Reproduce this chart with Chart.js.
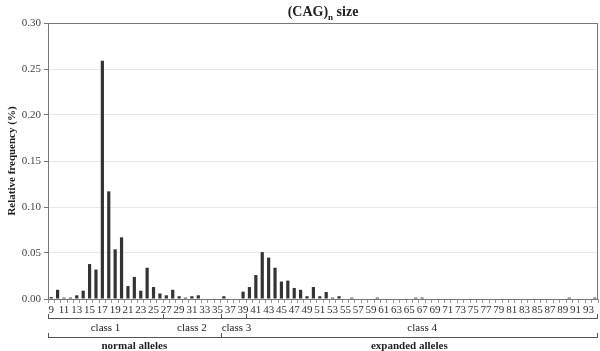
<!DOCTYPE html>
<html>
<head>
<meta charset="utf-8">
<script src="https://cdn.jsdelivr.net/npm/chart.js@4"></script>
<style>
  body { margin: 0; background: #fff; }
  #wrap { width: 600px; height: 351px; position: relative; }
</style>
</head>
<body>
<div id="wrap"><canvas id="chart"></canvas></div>
<script>
// CAG repeat sizes (categories)
const categories = [9, 10, 11, 12, 13, 14, 15, 16, 17, 18, 19, 20, 21, 22, 23, 24, 25, 26, 27, 28,
  29, 30, 31, 32, 33, 34, 35, 36, 37, 38, 39, 40, 41, 42, 43, 44, 45, 46, 47, 48,
  49, 50, 51, 52, 53, 54, 55, 56, 57, 58, 59, 60, 61, 62, 63, 64, 65, 66, 67, 68,
  69, 70, 71, 72, 73, 74, 75, 76, 77, 78, 79, 80, 81, 82, 83, 84, 85, 86, 87, 88,
  89, 90, 91, 92, 93, 94];

// relative frequency
const frequency = [0.002, 0.010, 0.0015, 0.0015, 0.004, 0.009, 0.038, 0.032, 0.259, 0.117,
  0.054, 0.067, 0.014, 0.024, 0.009, 0.034, 0.013, 0.006, 0.004, 0.010,
  0.003, 0.0015, 0.003, 0.004, 0, 0, 0, 0.003, 0, 0,
  0.008, 0.013, 0.026, 0.051, 0.045, 0.034, 0.019, 0.020, 0.012, 0.010,
  0.003, 0.013, 0.003, 0.0076, 0.0015, 0.003, 0, 0.0015, 0, 0,
  0, 0.0015, 0, 0, 0, 0, 0, 0.0015, 0.0015, 0,
  0, 0, 0, 0, 0, 0, 0, 0, 0, 0,
  0, 0, 0, 0, 0, 0, 0, 0, 0, 0,
  0, 0.0015, 0, 0, 0, 0.0015];

const tickLabels = [9, 11, 13, 15, 17, 19, 21, 23, 25, 27, 29, 31, 33, 35, 37, 39, 41, 43, 45, 47,
  49, 51, 53, 55, 57, 59, 61, 63, 65, 67, 69, 71, 73, 75, 77, 79, 81, 83, 85, 87,
  89, 91, 93];

const yTicks = [0, 0.05, 0.10, 0.15, 0.20, 0.25, 0.30];

// groups: [label, first size, last size]
const classGroups = [["class 1", 9, 26], ["class 2", 27, 35], ["class 3", 36, 39], ["class 4", 40, 94]];
const alleleGroups = [["normal alleles", 9, 35], ["expanded alleles", 36, 94]];

const SERIF = '"Liberation Serif", "Times New Roman", serif';

const decorations = {
  id: "decorations",
  afterDraw(chart) {
    const ctx = chart.ctx;
    const area = chart.chartArea;
    const x = chart.scales.x;
    const half = (x.getPixelForValue(1) - x.getPixelForValue(0)) / 2;
    const leftOf = v => x.getPixelForValue(categories.indexOf(v)) - half;
    const rightOf = v => x.getPixelForValue(categories.indexOf(v)) + half;

    ctx.save();
    // frame
    ctx.strokeStyle = "#777";
    ctx.lineWidth = 1;
    ctx.strokeRect(Math.round(area.left) + 0.5, Math.round(area.top) + 0.5,
      Math.round(area.right - area.left) - 1, Math.round(area.bottom - area.top));

    // title with subscript
    ctx.fillStyle = "#222";
    ctx.textBaseline = "alphabetic";
    const big = "bold 14px " + SERIF, small = "bold 9px " + SERIF;
    ctx.font = big;
    const w1 = ctx.measureText("(CAG)").width, w3 = ctx.measureText(" size").width;
    ctx.font = small;
    const w2 = ctx.measureText("n").width;
    let tx = (area.left + area.right) / 2 - (w1 + w2 + w3) / 2;
    ctx.font = big; ctx.textAlign = "left";
    ctx.fillText("(CAG)", tx, 16); tx += w1;
    ctx.font = small; ctx.fillText("n", tx, 20); tx += w2;
    ctx.font = big; ctx.fillText(" size", tx, 16);

    // bracket rows
    function row(groups, y, font, textY) {
      ctx.strokeStyle = "#555";
      ctx.beginPath();
      const l = leftOf(groups[0][1]), r = rightOf(groups[groups.length - 1][2]);
      ctx.moveTo(l, y + 0.5); ctx.lineTo(r, y + 0.5);
      groups.forEach(g => {
        const a = Math.round(leftOf(g[1])) + 0.5;
        ctx.moveTo(a, y - 4); ctx.lineTo(a, y + 0.5);
      });
      const e = Math.round(r) - 0.5;
      ctx.moveTo(e, y - 4); ctx.lineTo(e, y + 0.5);
      ctx.stroke();
      ctx.font = font;
      ctx.fillStyle = "#222";
      ctx.textBaseline = "middle";
      groups.forEach(g => {
        const a = leftOf(g[1]), b = rightOf(g[2]);
        const tw = ctx.measureText(g[0]).width;
        if (tw > b - a) { ctx.textAlign = "left"; ctx.fillText(g[0], a + 1, textY); }
        else { ctx.textAlign = "center"; ctx.fillText(g[0], (a + b) / 2, textY); }
      });
    }
    row(classGroups, 318, "11px " + SERIF, 328);
    row(alleleGroups, 337, "bold 11px " + SERIF, 346);
    ctx.restore();
  }
};

new Chart(document.getElementById("chart"), {
  type: "bar",
  data: {
    labels: categories,
    datasets: [{
      data: frequency,
      backgroundColor: "#333",
      barPercentage: 0.5,
      categoryPercentage: 1.0
    }]
  },
  options: {
    responsive: true,
    maintainAspectRatio: false,
    animation: false,
    layout: { padding: { top: 23, right: 2, left: 0, bottom: 0 } },
    plugins: { legend: { display: false }, tooltip: { enabled: false }, title: { display: false } },
    scales: {
      x: {
        grid: { drawOnChartArea: false, tickLength: 4, color: "#999" },
        border: { display: false },
        ticks: {
          autoSkip: false, maxRotation: 0, minRotation: 0, padding: 1,
          color: "#333", font: { family: SERIF, size: 11 },
          callback: function (value) {
            const c = categories[value];
            return tickLabels.includes(c) ? String(c) : "";
          }
        },
        afterFit: s => { s.height = 52; }
      },
      y: {
        min: 0, max: 0.3,
        afterBuildTicks: s => { s.ticks = yTicks.map(v => ({ value: v })); },
        grid: { color: "#e8e8e8", tickColor: "#777", tickLength: 4 },
        border: { display: false },
        ticks: { color: "#444", padding: 3, font: { family: SERIF, size: 11 }, callback: v => v.toFixed(2) },
        title: {
          display: true, text: "Relative frequency (%)", color: "#222",
          font: { family: SERIF, size: 11, weight: "bold" }, padding: { top: 6, bottom: 0 }
        },
        afterFit: s => { s.width = 48; }
      }
    }
  },
  plugins: [decorations]
});
</script>
</body>
</html>
